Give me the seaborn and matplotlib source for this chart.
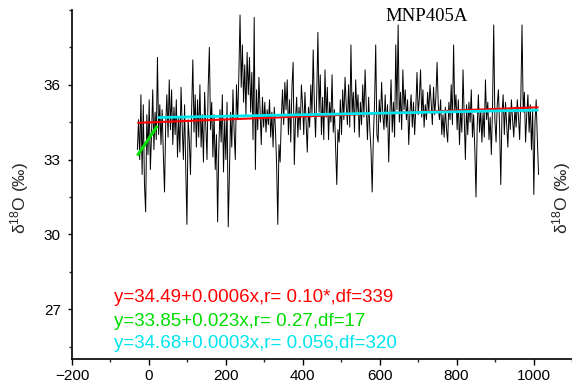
import numpy as np
import pandas as pd
import matplotlib
matplotlib.use("Agg")
import matplotlib.pyplot as plt
from matplotlib.ticker import FixedLocator, MultipleLocator
import seaborn as sns

# delta-18O record, MNP405A (years, roughly 3-year sampling)
d18o = [
    33.4, 34.6, 33.0, 35.6, 32.4, 35.2, 32.0, 30.9, 34.8, 33.2, 35.4, 32.6, 34.0, 35.8, 33.4, 34.9, 33.8, 37.1, 34.0, 35.2,
    33.6, 35.0, 33.2, 31.7, 34.4, 35.6, 33.9, 36.2, 34.2, 35.8, 33.6, 35.1, 34.0, 35.4, 33.1, 34.7, 33.3, 35.9, 34.3, 33.0,
    35.2, 32.6, 30.4, 34.6, 33.8, 32.4, 35.0, 37.0, 34.1, 35.6, 33.5, 35.4, 33.9, 36.0, 33.5, 34.8, 32.9, 35.7, 34.4, 33.0,
    35.9, 37.5, 34.2, 35.3, 33.1, 34.8, 32.6, 34.0, 30.5, 33.4, 35.0, 33.7, 35.6, 32.5, 34.6, 33.0, 35.3, 30.3, 32.4, 34.9,
    33.5, 35.8, 34.1, 33.0, 36.0, 34.6, 36.4, 38.8, 35.9, 37.6, 35.3, 36.8, 34.8, 37.3, 35.6, 37.1, 34.9, 36.5, 33.8, 38.7,
    32.6, 35.8, 34.2, 36.3, 35.0, 33.6, 35.5, 34.3, 35.3, 34.1, 35.0, 34.4, 35.4, 33.9, 34.9, 33.5, 35.1, 34.2, 32.8, 30.4,
    33.6, 32.9, 34.7, 35.8, 34.4, 36.1, 35.0, 36.2, 34.0, 35.4, 33.7, 35.9, 36.9, 32.8, 34.6, 35.5, 33.9, 35.1, 34.2, 36.0,
    35.2, 34.0, 35.7, 34.5, 33.3, 35.1, 34.3, 36.0, 34.8, 37.4, 35.2, 33.9, 35.6, 38.1, 34.9, 36.4, 34.0, 35.5, 33.8, 36.6,
    34.7, 35.9, 33.8, 35.3, 34.5, 36.4, 34.1, 35.0, 33.5, 32.0, 34.2, 33.7, 35.4, 34.0, 35.8, 34.6, 36.3, 35.2, 34.4, 36.0,
    34.3, 37.6, 34.8, 35.7, 34.1, 36.2, 34.9, 35.6, 33.9, 35.3, 34.4, 36.0, 34.7, 36.6, 35.1, 33.8, 35.5, 34.2, 33.4, 31.7,
    33.9, 35.2, 37.6, 34.0, 33.7, 35.4, 34.5, 36.1, 34.8, 34.2, 35.6, 34.3, 35.2, 32.9, 34.8, 36.2, 34.1, 35.3, 33.9, 37.6,
    35.0, 38.4, 34.5, 35.7, 34.2, 36.6, 35.0, 35.8, 34.6, 35.4, 33.6, 34.9, 35.6, 34.3, 35.3, 34.0, 35.1, 36.5, 34.8, 35.5,
    36.6, 34.7, 35.8, 34.3, 35.2, 34.6, 35.7, 34.9, 36.0, 35.3, 34.4, 35.9, 34.8, 35.5, 36.9, 35.2, 34.6, 35.4, 34.0, 34.8,
    33.9, 35.1, 34.2, 33.7, 35.3, 34.6, 36.0, 34.4, 37.6, 34.9, 35.6, 34.2, 35.4, 33.6, 35.0, 34.1, 36.6, 34.7, 33.0, 35.2,
    34.0, 35.3, 34.5, 35.8, 33.9, 34.8, 33.4, 31.5, 34.3, 35.6, 34.1, 35.0, 33.7, 34.9, 33.9, 36.2, 34.6, 35.3, 33.8, 34.7,
    33.2, 35.1, 38.4, 34.6, 33.7, 35.2, 35.8, 34.3, 32.0, 34.8, 35.6, 34.0, 35.3, 34.4, 33.5, 35.0, 34.2, 35.4, 34.6, 33.9,
    35.1, 34.3, 35.4, 34.7, 33.8, 35.5, 38.4, 34.9, 35.7, 33.7, 34.8, 35.6, 34.1, 35.2, 33.4, 35.0, 31.6, 34.5, 35.4, 33.8,
    32.4,
]
year_start, year_end = -30, 1013

# Linear fits: whole record, early segment, later segment
fit_labels = [
    "y=34.49+0.0006x,r= 0.10*,df=339",
    "y=33.85+0.023x,r= 0.27,df=17",
    "y=34.68+0.0003x,r= 0.056,df=320",
]
fit_intercepts = [34.49, 33.85, 34.68]
fit_slopes = [0.0006, 0.023, 0.0003]
fit_ranges = [(-30, 1013), (-30, 22), (22, 1013)]
fit_colors = ["#ff0000", "#00dd00", "#00e5ee"]
fit_widths = [1.5, 2.2, 2.0]

x_ticks = [-200, 0, 200, 400, 600, 800, 1000]
y_ticks = [27, 30, 33, 36]

sns.set_theme(style="ticks")
plt.rcParams["font.family"] = ["Liberation Sans", "DejaVu Sans"]
plt.rcParams["mathtext.default"] = "regular"

years = np.linspace(year_start, year_end, len(d18o))
df = pd.DataFrame({"year": years, "d18o": d18o})

fig = plt.figure(figsize=(5.72, 3.92), dpi=100)
ax = fig.add_axes([72 / 572, 33 / 392, 500 / 572, 349 / 392])

sns.lineplot(data=df, x="year", y="d18o", color="black", linewidth=0.7, ax=ax)

for b0, b1, (xa, xb), c, w in zip(fit_intercepts, fit_slopes, fit_ranges, fit_colors, fit_widths):
    xs = np.array([xa, xb])
    ax.plot(xs, b0 + b1 * xs, color=c, linewidth=w, solid_capstyle="butt")

ax.set_xlim(-200, 1100)
ax.set_ylim(25, 39)
ax.xaxis.set_major_locator(FixedLocator(x_ticks))
ax.xaxis.set_minor_locator(MultipleLocator(100))
ax.yaxis.set_major_locator(FixedLocator(y_ticks))
ax.yaxis.set_minor_locator(MultipleLocator(1.5))
ax.tick_params(axis="x", which="major", length=4.5, width=1.0, labelsize=11, pad=3, colors="black")
ax.tick_params(axis="x", which="minor", length=2.2, width=1.0)
ax.tick_params(axis="y", which="major", length=3.0, width=1.0, labelsize=11, pad=5, colors="black")
ax.tick_params(axis="y", which="minor", length=2.0, width=1.0)
ax.set_xlabel("")
ax.set_ylabel("")
sns.despine(ax=ax)
for side in ("left", "bottom"):
    ax.spines[side].set_linewidth(1.2)
    ax.spines[side].set_color("black")

ax.text(722, 38.75, "MNP405A", family="Liberation Serif", fontsize=13.5,
        ha="center", va="center", color="black")

for label, c, yy in zip(fit_labels, fit_colors, [27.47, 26.51, 25.64]):
    ax.text(-91, yy, label, color=c, fontsize=13.5, ha="left", va="center")

ylab = "δ$^{18}$O (‰)"
fig.text(20 / 572, 1 - 198 / 392, ylab, rotation=90, fontsize=12.5, ha="center", va="center")
fig.text(562 / 572, 1 - 198 / 392, ylab, rotation=90, fontsize=12.5, ha="center", va="center")

fig.savefig("out.png", dpi=100, facecolor="white")
